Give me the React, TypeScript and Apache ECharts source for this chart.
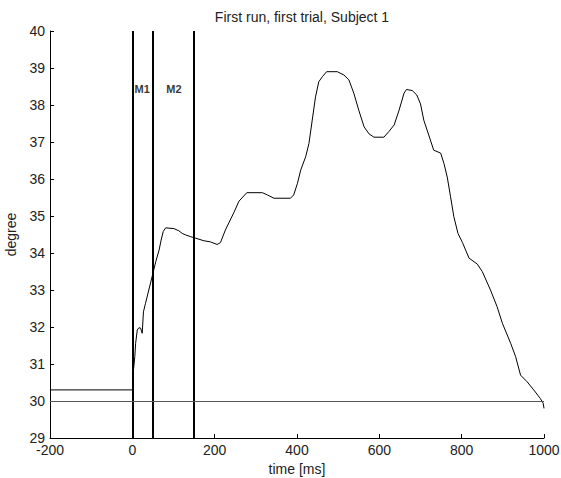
import React, { useEffect, useRef } from "react";
import * as echarts from "echarts";

const timeMs: number[] = [
  -200, 0, 1, 2, 6, 8, 12, 16, 20, 24, 27, 32, 40, 50, 57, 65, 70, 75, 81, 101,
  113, 121, 129, 142, 154, 174, 190, 206, 214, 226, 247, 259, 278, 316, 328, 344,
  384, 392, 401, 409, 421, 429, 437, 445, 453, 462, 472, 498, 514, 526, 538, 550,
  563, 575, 587, 611, 623, 636, 648, 660, 666, 680, 691, 700, 708, 720, 732, 749,
  757, 765, 773, 781, 791, 802, 818, 838, 850, 870, 886, 899, 919, 931, 943, 959,
  975, 991, 998, 1000,
];
const degree: number[] = [
  30.3, 30.3, 30.39, 30.75, 31.2, 31.56, 31.92, 31.98, 31.97, 31.83, 32.41, 32.64,
  33.0, 33.45, 33.77, 34.08, 34.35, 34.58, 34.68, 34.66, 34.6, 34.53, 34.49, 34.44,
  34.4, 34.33, 34.3, 34.23, 34.28, 34.62, 35.1, 35.4, 35.63, 35.63, 35.57, 35.48,
  35.48, 35.57, 35.88, 36.24, 36.6, 36.96, 37.59, 38.22, 38.63, 38.77, 38.9, 38.9,
  38.81, 38.68, 38.32, 37.86, 37.41, 37.22, 37.13, 37.13, 37.28, 37.46, 37.86,
  38.32, 38.42, 38.39, 38.27, 38.03, 37.59, 37.19, 36.78, 36.7, 36.42, 36.05, 35.52,
  34.98, 34.53, 34.28, 33.86, 33.7, 33.5, 33.0, 32.55, 32.1, 31.56, 31.2, 30.7,
  30.52, 30.3, 30.07, 29.94, 29.8,
];
const verticalMarkers: number[] = [0, 50, 150];
const baselineDegree = 30;
const markerNames: string[] = ["M1", "M2"];
const markerX: number[] = [24, 101];
const markerY: number[] = [38.43, 38.43];

const FONT = "Liberation Sans, Arial, sans-serif";

export default function App() {
  const ref = useRef<HTMLDivElement>(null);
  useEffect(() => {
    if (!ref.current) return;
    const chart = echarts.init(ref.current, undefined, { renderer: "svg" });
    const lineData = timeMs.map((t, i) => [t, degree[i]]);
    chart.setOption({
      animation: false,
      backgroundColor: "#ffffff",
      title: {
        text: "First run, first trial, Subject 1",
        left: 297,
        textAlign: "center",
        top: 5,
        textStyle: { fontFamily: FONT, fontSize: 14, fontWeight: "normal", color: "#222" },
      },
      grid: { left: 50, right: 17, top: 31, bottom: 40, containLabel: false, outerBoundsMode: "none" },
      xAxis: {
        type: "value",
        min: -200,
        max: 1000,
        interval: 200,
        name: "time [ms]",
        nameLocation: "middle",
        nameGap: 23,
        nameTextStyle: { fontFamily: FONT, fontSize: 14, color: "#222" },
        axisLine: { show: true, onZero: false, lineStyle: { color: "#000", width: 1 } },
        axisTick: { show: true, inside: true, length: 4, lineStyle: { color: "#000" } },
        axisLabel: { fontFamily: FONT, fontSize: 14, color: "#222", margin: 5, formatter: (v: number) => String(v) },
        splitLine: { show: false },
      },
      yAxis: {
        type: "value",
        min: 29,
        max: 40,
        interval: 1,
        name: "degree",
        nameLocation: "middle",
        nameGap: 32,
        nameTextStyle: { fontFamily: FONT, fontSize: 14, color: "#222" },
        axisLine: { show: true, onZero: false, lineStyle: { color: "#000", width: 1 } },
        axisTick: { show: true, inside: true, length: 4, lineStyle: { color: "#000" } },
        axisLabel: { fontFamily: FONT, fontSize: 14, color: "#222", margin: 5 },
        splitLine: { show: false },
      },
      series: [
        {
          type: "line",
          data: lineData,
          showSymbol: false,
          symbol: "none",
          lineStyle: { color: "#000", width: 1 },
          markLine: {
            silent: true,
            symbol: ["none", "none"],
            label: { show: false },
            data: [
              ...verticalMarkers.map((x) => ({ xAxis: x, lineStyle: { color: "#000", width: 2, type: "solid" } })),
              { yAxis: baselineDegree, lineStyle: { color: "#555", width: 1, type: "solid" } },
            ],
          },
        },
        {
          type: "scatter",
          data: markerNames.map((n, i) => [markerX[i], markerY[i], n]),
          symbolSize: 1,
          itemStyle: { color: "rgba(0,0,0,0)" },
          label: {
            show: true,
            position: "inside",
            formatter: (p: any) => p.data[2],
            fontFamily: FONT,
            fontSize: 11,
            fontWeight: "bold",
            color: "#000",
            textBorderWidth: 0,
          },
        },
      ],
    });
    return () => chart.dispose();
  }, []);
  return (
    <div
      ref={ref}
      style={{ position: "fixed", left: 0, top: 0, width: 561, height: 478 }}
    />
  );
}
